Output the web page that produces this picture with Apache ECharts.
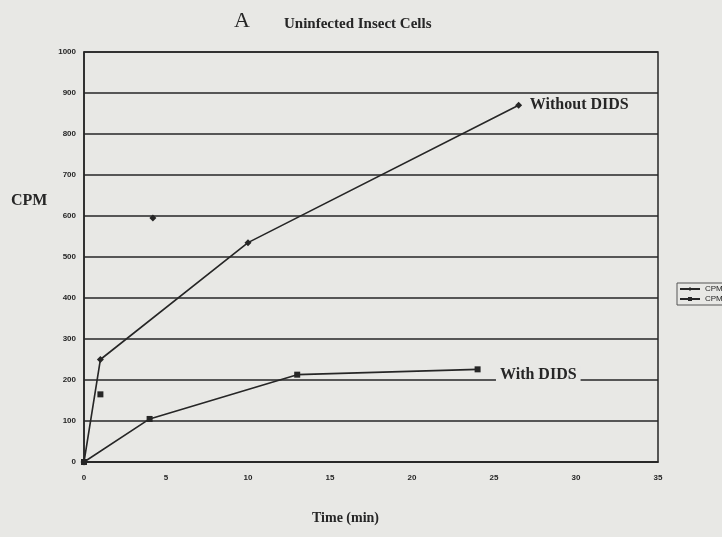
<!DOCTYPE html>
<html>
<head>
<meta charset="utf-8">
<script src="https://cdn.jsdelivr.net/npm/echarts@6/dist/echarts.min.js"></script>
<style>
html,body{margin:0;padding:0;background:#e8e8e5;}
#c{width:722px;height:537px;}
</style>
</head>
<body>
<div id="c"></div>
<script>
// Data
var timeWithout = [0, 1, 10, 26.5];
var cpmWithout  = [0, 250, 535, 870];
var timeWith    = [0, 4, 13, 24];
var cpmWith     = [0, 105, 213, 226];
// isolated markers (not joined by the drawn lines)
var strayWithoutTime = [4.2];
var strayWithoutCpm  = [595];
var strayWithTime    = [1];
var strayWithCpm     = [165];
var yTicks = [0,100,200,300,400,500,600,700,800,900,1000];
var xTicks = [0,5,10,15,20,25,30,35];

function pairs(xs, ys){ return xs.map(function(x,i){ return [x, ys[i]]; }); }

var ink = '#262626';
var paper = '#e8e8e5';
var chart = echarts.init(document.getElementById('c'), null, {renderer:'canvas'});
chart.setOption({
  backgroundColor: paper,
  animation: false,
  title: [
    {text:'A', left:229, top:5, textStyle:{fontFamily:'Liberation Serif', fontWeight:'normal', fontSize:22, color:ink}},
    {text:'Uninfected Insect Cells', left:279, top:12, textStyle:{fontFamily:'Liberation Serif', fontWeight:'bold', fontSize:15, color:ink}}
  ],
  grid: {left:84, right:64, top:52, bottom:75, show:true, borderColor:ink, borderWidth:1.5, backgroundColor:'transparent'},
  legend: {
    orient:'vertical', left:677, top:283, itemWidth:20, itemHeight:5, itemGap:2,
    padding:[2,2,2,2], borderColor:'#555', borderWidth:1,
    data:['CPM-a','CPM-b'],
    formatter:function(){ return 'CPM'; },
    textStyle:{fontFamily:'Liberation Sans', fontSize:8, color:ink}
  },
  xAxis: {
    type:'value', min:0, max:35, interval:5,
    axisLine:{show:true, lineStyle:{color:ink, width:1.5}},
    axisTick:{show:false},
    splitLine:{show:false},
    axisLabel:{margin:12, fontFamily:'Liberation Sans', fontWeight:'bold', fontSize:8, color:ink,
      formatter:function(v){ return xTicks.indexOf(v)>=0 ? String(v) : ''; }}
  },
  yAxis: {
    type:'value', min:0, max:1000, interval:100,
    axisLine:{show:true, lineStyle:{color:ink, width:1.5}},
    axisTick:{show:false},
    splitLine:{show:true, lineStyle:{color:ink, width:1.5}},
    axisLabel:{margin:8, fontFamily:'Liberation Sans', fontWeight:'bold', fontSize:8, color:ink,
      formatter:function(v){ return yTicks.indexOf(v)>=0 ? String(v) : ''; }}
  },
  graphic: [
    {type:'text', left:11, top:193, style:{text:'CPM', font:'bold 16px "Liberation Serif"', fill:ink}},
    {type:'text', left:312, top:511, style:{text:'Time (min)', font:'bold 14px "Liberation Serif"', fill:ink}}
  ],
  series: [
    {
      name:'CPM-a', type:'line', data:pairs(timeWithout, cpmWithout),
      symbol:'diamond', symbolSize:7, showSymbol:true,
      lineStyle:{color:ink, width:1.6}, itemStyle:{color:ink},
      markPoint:{symbol:'rect', symbolSize:1, itemStyle:{color:'transparent'},
        data:[{coord:[30.2, 870], label:{show:true, formatter:'Without DIDS', position:'inside',
          fontFamily:'Liberation Serif', fontWeight:'bold', fontSize:16, color:ink,
          backgroundColor:paper, padding:[1,4]}}]}
    },
    {
      name:'CPM-b', type:'line', data:pairs(timeWith, cpmWith),
      symbol:'rect', symbolSize:6, showSymbol:true,
      lineStyle:{color:ink, width:1.6}, itemStyle:{color:ink},
      markPoint:{symbol:'rect', symbolSize:1, itemStyle:{color:'transparent'},
        data:[{coord:[27.7, 212], label:{show:true, formatter:'With DIDS', position:'inside',
          fontFamily:'Liberation Serif', fontWeight:'bold', fontSize:16, color:ink,
          backgroundColor:paper, padding:[1,4]}}]}
    },
    {
      name:'strayA', type:'scatter', data:pairs(strayWithoutTime, strayWithoutCpm),
      symbol:'diamond', symbolSize:7, itemStyle:{color:ink, opacity:1}
    },
    {
      name:'strayB', type:'scatter', data:pairs(strayWithTime, strayWithCpm),
      symbol:'rect', symbolSize:6, itemStyle:{color:ink, opacity:1}
    }
  ]
});
</script>
</body>
</html>
